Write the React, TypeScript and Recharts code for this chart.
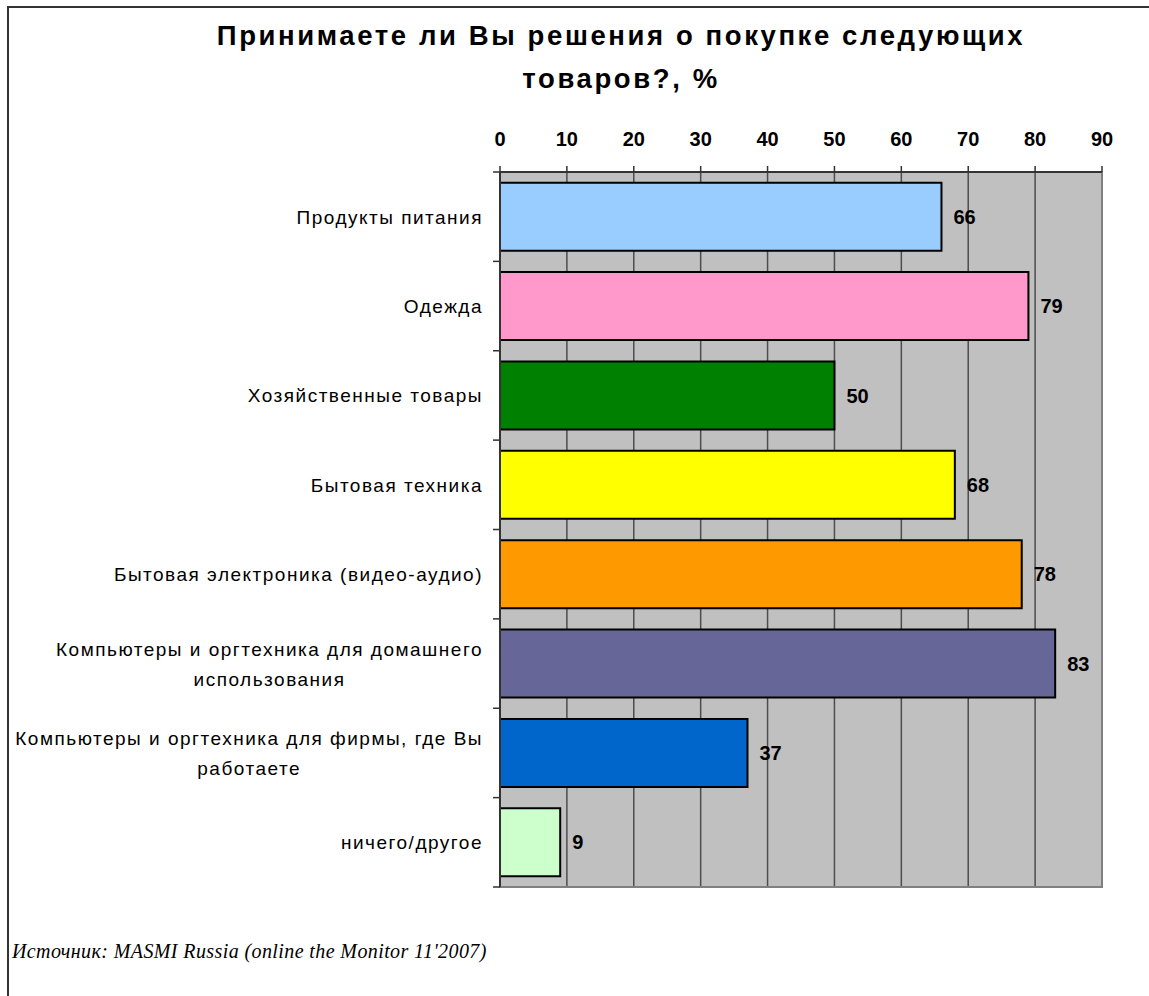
import React from "react";
import {
  BarChart,
  Bar,
  XAxis,
  YAxis,
  CartesianGrid,
  Cell,
  LabelList,
  ReferenceArea,
} from "recharts";

// categories ("\n" marks where the original label wraps)
const categories = [
  "Продукты питания",
  "Одежда",
  "Хозяйственные товары",
  "Бытовая техника",
  "Бытовая электроника (видео-аудио)",
  "Компьютеры и оргтехника для домашнего\nиспользования",
  "Компьютеры и оргтехника для фирмы, где Вы\nработаете",
  "ничего/другое",
];
const values = [66, 79, 50, 68, 78, 83, 37, 9];
const barColors = [
  "#99CCFF",
  "#FF99CC",
  "#008000",
  "#FFFF00",
  "#FF9900",
  "#666699",
  "#0066CC",
  "#CCFFCC",
];
const xTicks = [0, 10, 20, 30, 40, 50, 60, 70, 80, 90];

const title = ["Принимаете ли Вы решения о покупке следующих", "товаров?, %"];
const source = "Источник: MASMI Russia (online the Monitor 11'2007)";

const W = 1149;
const H = 996;
const margin = { top: 142, right: 47, bottom: 109, left: 10 };
const plotH = H - margin.top - margin.bottom - 30;

const LABEL_FONT = '19px "Liberation Sans", Arial, sans-serif';
const LABEL_LS = 1.5;

let ctx: CanvasRenderingContext2D | null = null;
const textWidth = (s: string) => {
  if (!ctx) ctx = document.createElement("canvas").getContext("2d");
  if (!ctx) return s.length * 10;
  ctx.font = LABEL_FONT;
  return ctx.measureText(s).width + LABEL_LS * s.length;
};

const data = categories.map((name, i) => ({ name, value: values[i] }));

const CategoryTick = (props: any) => {
  const { x, y, payload } = props;
  const half = payload.offset ?? plotH / categories.length / 2;
  const lines = String(payload.value).split("\n");
  const right = x - 17;
  const lh = 30;
  const w0 = textWidth(lines[0]);
  const isLast = payload.index === categories.length - 1;
  return (
    <g>
      <line x1={x - 7} x2={x} y1={y - half} y2={y - half} stroke="#333" strokeWidth={1.5} />
      {isLast && (
        <line x1={x - 7} x2={x} y1={y + half} y2={y + half} stroke="#333" strokeWidth={1.5} />
      )}
      {lines.map((ln, i) => (
        <text
          key={i}
          x={i === 0 ? right : right - w0 / 2}
          y={y + 7 + (i - (lines.length - 1) / 2) * lh}
          textAnchor={i === 0 ? "end" : "middle"}
          fill="#000"
          style={{ font: LABEL_FONT, letterSpacing: LABEL_LS }}
        >
          {ln}
        </text>
      ))}
    </g>
  );
};

export default function App() {
  return (
    <div
      style={{
        position: "absolute",
        left: 0,
        top: 0,
        width: W,
        height: H,
        background: "#fff",
        overflow: "hidden",
        fontFamily: '"Liberation Sans", Arial, sans-serif',
      }}
    >
      <div
        style={{
          position: "absolute",
          left: 7,
          top: 6,
          width: 1300,
          height: 1200,
          border: "2px solid #333",
        }}
      />
      <div
        style={{
          position: "absolute",
          left: 121,
          top: 14,
          width: 1000,
          textAlign: "center",
          fontSize: 27.5,
          fontWeight: "bold",
          lineHeight: "43px",
          letterSpacing: 2.6,
          color: "#000",
        }}
      >
        {title[0]}
        <br />
        {title[1]}
      </div>

      <div style={{ position: "absolute", left: 0, top: 0 }}>
        <BarChart
          width={W}
          height={H}
          data={data}
          layout="vertical"
          margin={margin}
          barCategoryGap="12%"
        >
          <CartesianGrid
            horizontal={false}
            fill="#C0C0C0"
            fillOpacity={1}
            stroke="#4d4d4d"
            strokeWidth={1.5}
          />
          <ReferenceArea
            x1={0}
            x2={90}
            fill="none"
            stroke="#808080"
            strokeWidth={2}
            ifOverflow="visible"
          />
          <XAxis
            type="number"
            orientation="top"
            domain={[0, 90]}
            ticks={xTicks}
            interval={0}
            height={30}
            tickSize={6}
            tickMargin={20}
            axisLine={{ stroke: "#333", strokeWidth: 2 }}
            tickLine={{ stroke: "#333", strokeWidth: 1.5 }}
            tick={{ fill: "#000", fontSize: 20, fontWeight: "bold" }}
          />
          <YAxis
            type="category"
            dataKey="name"
            width={490}
            interval={0}
            tickSize={0}
            tickMargin={0}
            tickLine={false}
            axisLine={{ stroke: "#333", strokeWidth: 2 }}
            tick={<CategoryTick />}
          />
          <Bar
            dataKey="value"
            stroke="#000"
            strokeWidth={2}
            isAnimationActive={false}
          >
            {data.map((d, i) => (
              <Cell key={d.name} fill={barColors[i]} />
            ))}
            <LabelList
              dataKey="value"
              position="right"
              offset={12}
              style={{ fill: "#000", fontSize: 20, fontWeight: "bold" }}
            />
          </Bar>
        </BarChart>
      </div>

      <div
        style={{
          position: "absolute",
          left: 12,
          top: 939,
          fontFamily: '"Liberation Serif", "Times New Roman", serif',
          fontStyle: "italic",
          fontSize: 20,
          lineHeight: "24px",
          letterSpacing: 0.4,
          whiteSpace: "nowrap",
          color: "#000",
        }}
      >
        {source}
      </div>
    </div>
  );
}
